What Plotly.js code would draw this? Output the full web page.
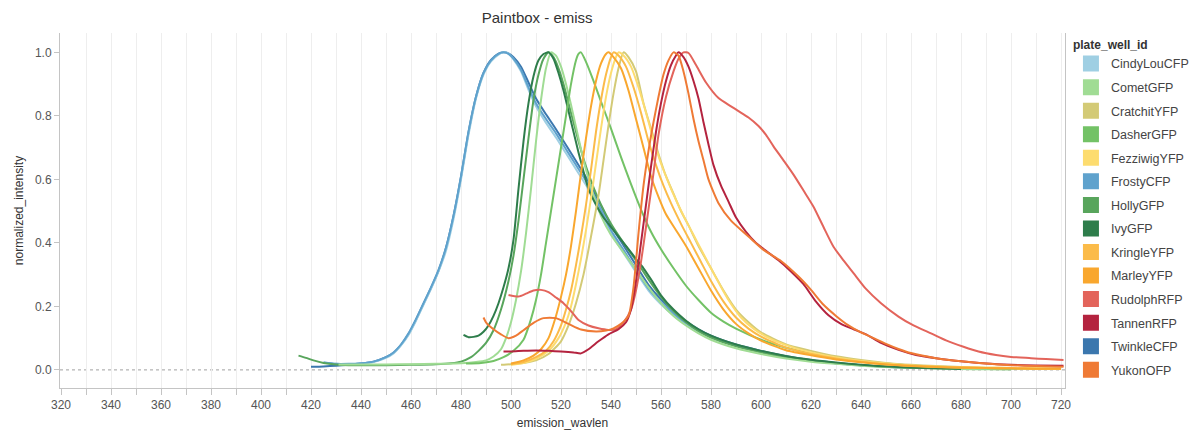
<!DOCTYPE html>
<html>
<head>
<meta charset="utf-8">
<script src="https://cdn.plot.ly/plotly-3.0.1.min.js"></script>
<style>html,body{margin:0;padding:0;background:#fff;}#chart{width:1199px;height:432px;}</style>
</head>
<body>
<div id="chart"></div>
<script>
// ---- data ----
const seriesNames = ["CindyLouCFP","CometGFP","CratchitYFP","DasherGFP","FezziwigYFP","FrostyCFP","HollyGFP","IvyGFP","KringleYFP","MarleyYFP","RudolphRFP","TannenRFP","TwinkleCFP","YukonOFP"];
const seriesColors = ["#9fcfe3","#a0dc94","#d3ca76","#73c266","#fddc6f","#5fa2cd","#58a55c","#2e7d4b","#fbbb49","#f9a72e","#e3645b","#b4233f","#3b77ae","#ef7a35"];
// order in which the lines are drawn (later = on top)
const drawOrder = ["TwinkleCFP","CindyLouCFP","FrostyCFP","HollyGFP","CometGFP","IvyGFP","DasherGFP","CratchitYFP","FezziwigYFP","KringleYFP","MarleyYFP","RudolphRFP","TannenRFP","YukonOFP"];

const cindyX = [427,430,435,440,445,450,453,456,459,462,465,468,471,474,477,480,483,486,489,492,495,497,499,501,504,507,510,514,518,522,526,530,535,540,545,550,555,560,565,570,575,580,590,600,610,620,630,640,650,660];
const cindyY = [0.022,0.019,0.018,0.02,0.025,0.038,0.052,0.077,0.11,0.155,0.205,0.255,0.31,0.375,0.475,0.6,0.74,0.855,0.93,0.972,0.993,1.0,0.996,0.978,0.94,0.882,0.83,0.778,0.732,0.682,0.632,0.582,0.508,0.43,0.368,0.308,0.25,0.207,0.172,0.143,0.12,0.101,0.075,0.056,0.04,0.029,0.02,0.014,0.01,0.007];

const cometX = [431,440,450,460,470,480,486,490,493,496,498,500,502,504,506,508,510,512,514,516,518,520,522,524,526,528,530,533,536,540,545,550,555,560,565,570,575,580,590,600,610,620,630,640,650,660,670,680,690,700];
const cometY = [0.017,0.017,0.017,0.018,0.019,0.021,0.025,0.03,0.042,0.065,0.1,0.15,0.22,0.31,0.43,0.57,0.72,0.85,0.95,1.0,0.99,0.955,0.9,0.835,0.765,0.695,0.63,0.55,0.485,0.425,0.37,0.315,0.26,0.21,0.17,0.14,0.115,0.095,0.068,0.05,0.036,0.026,0.019,0.013,0.009,0.007,0.005,0.003,0.002,0.002];

const cratchitX = [496,500,505,510,515,520,523,526,529,532,535,537,539,541,543,545,547,550,553,556,559,562,565,568,571,575,580,585,590,595,600,610,620,630,640,650,660,670,680,690,700,710,720];
const cratchitY = [0.016,0.018,0.022,0.03,0.05,0.09,0.14,0.21,0.3,0.42,0.55,0.66,0.77,0.87,0.95,1.0,0.985,0.94,0.84,0.76,0.68,0.61,0.555,0.5,0.455,0.39,0.32,0.25,0.19,0.15,0.118,0.08,0.06,0.043,0.031,0.022,0.016,0.012,0.009,0.007,0.006,0.005,0.004];

const dasherX = [482,488,493,497,501,505,508,510,512,514,516,518,520,522,524,526,527,528,530,533,536,540,544,548,552,556,560,565,570,575,580,585,590,600,610,620,630,640,650,660,670,680,690,700,710,720];
const dasherY = [0.02,0.022,0.028,0.04,0.06,0.095,0.16,0.22,0.3,0.4,0.5,0.6,0.7,0.8,0.9,0.975,0.995,1.0,0.97,0.91,0.845,0.76,0.67,0.585,0.505,0.435,0.38,0.32,0.265,0.22,0.18,0.152,0.13,0.095,0.07,0.052,0.038,0.028,0.02,0.014,0.01,0.007,0.005,0.004,0.003,0.003];

const fezziwigX = [500,505,510,515,519,522,524,526,528,530,532,534,536,538,540,542,543,545,548,551,554,557,560,563,566,570,574,578,582,587,592,597,602,610,620,630,640,650,660,670,680,690,700,710,720];
const fezziwigY = [0.016,0.022,0.035,0.06,0.1,0.15,0.2,0.27,0.35,0.44,0.54,0.65,0.76,0.86,0.935,0.985,1.0,0.99,0.955,0.89,0.81,0.725,0.65,0.59,0.535,0.47,0.41,0.35,0.29,0.22,0.165,0.13,0.105,0.078,0.055,0.039,0.028,0.02,0.014,0.011,0.008,0.007,0.006,0.005,0.004];

const frostyX = [425,430,435,440,445,450,453,456,459,462,465,468,471,474,477,480,483,486,489,492,495,497,499,501,504,507,510,514,518,522,526,530,535,540,545,550,555,560,565,570,575,580,590,600,610,620,630,640,650,660];
const frostyY = [0.024,0.019,0.019,0.021,0.026,0.04,0.055,0.08,0.115,0.16,0.21,0.26,0.315,0.385,0.485,0.61,0.75,0.86,0.935,0.975,0.995,1.0,0.995,0.98,0.945,0.89,0.84,0.79,0.745,0.695,0.645,0.595,0.52,0.44,0.378,0.316,0.256,0.213,0.178,0.148,0.124,0.105,0.078,0.058,0.042,0.03,0.021,0.015,0.01,0.007];

const hollyX = [415,418,421,425,430,435,440,450,460,470,476,480,484,487,490,493,496,499,501,503,505,507,509,511,513,515,517,519,521,523,525,527,530,533,536,540,545,550,555,560,565,570,575,580,590,600,610,620,630,640,650,660,670,680,690,700];
const hollyY = [0.045,0.038,0.03,0.022,0.017,0.015,0.015,0.015,0.016,0.018,0.021,0.026,0.04,0.06,0.085,0.125,0.19,0.28,0.36,0.47,0.6,0.73,0.85,0.93,0.98,1.0,0.985,0.95,0.9,0.84,0.78,0.72,0.64,0.575,0.52,0.46,0.4,0.345,0.285,0.23,0.185,0.15,0.122,0.102,0.074,0.055,0.04,0.029,0.021,0.015,0.01,0.007,0.005,0.004,0.003,0.002];

const ivyX = [481,483,485,487,489,491,493,495,497,499,501,503,505,507,509,511,513,515,517,519,521,523,525,527,529,531,534,537,540,543,547,550,553,556,560,565,570,575,580,590,600,610,620,630,640,650,660,670,680];
const ivyY = [0.11,0.103,0.104,0.108,0.12,0.14,0.17,0.21,0.26,0.32,0.41,0.57,0.72,0.84,0.925,0.975,0.995,1.0,0.98,0.935,0.88,0.815,0.75,0.685,0.625,0.57,0.52,0.48,0.45,0.42,0.38,0.35,0.32,0.285,0.235,0.19,0.155,0.128,0.108,0.08,0.06,0.044,0.032,0.023,0.016,0.011,0.007,0.005,0.003];

const kringleX = [500,505,510,514,517,520,522,524,526,528,530,532,534,536,538,540,541,543,546,549,552,555,558,561,564,568,572,576,580,585,590,595,600,610,620,630,640,650,660,670,680,690,700,710,720];
const kringleY = [0.018,0.025,0.04,0.06,0.09,0.14,0.19,0.25,0.33,0.42,0.52,0.63,0.75,0.85,0.93,0.985,1.0,0.99,0.955,0.89,0.81,0.72,0.645,0.58,0.525,0.46,0.4,0.34,0.28,0.215,0.165,0.13,0.105,0.07,0.05,0.036,0.026,0.018,0.013,0.01,0.008,0.006,0.005,0.004,0.004];

const marleyX = [500,505,509,512,515,518,520,522,524,526,528,530,532,534,536,538,539,541,544,547,550,553,556,559,562,566,570,575,580,585,590,595,600,610,620,630,640,650,660,670,680,690,700,710,720];
const marleyY = [0.02,0.03,0.045,0.065,0.1,0.17,0.23,0.3,0.39,0.5,0.62,0.73,0.83,0.91,0.965,0.995,1.0,0.985,0.95,0.88,0.79,0.7,0.61,0.545,0.49,0.44,0.39,0.32,0.25,0.19,0.145,0.115,0.092,0.062,0.046,0.033,0.024,0.017,0.012,0.009,0.007,0.006,0.005,0.004,0.004];

const rudolphX = [499,503,506,509,512,515,518,521,524,527,531,535,539,542,545,548,550,552,554,557,559,562,565,567,569,571,574,578,583,588,591,595,599,602,605,609,613,617,621,625,629,633,637,642,648,655,661,668,674,681,687,694,700,708,714,721];
const rudolphY = [0.236,0.231,0.24,0.25,0.252,0.245,0.228,0.21,0.185,0.157,0.14,0.131,0.126,0.128,0.15,0.19,0.25,0.34,0.45,0.62,0.74,0.86,0.94,0.98,1.0,0.998,0.96,0.905,0.856,0.83,0.815,0.795,0.768,0.74,0.704,0.66,0.615,0.565,0.514,0.45,0.388,0.345,0.305,0.255,0.21,0.168,0.14,0.115,0.093,0.073,0.058,0.047,0.041,0.037,0.034,0.031];

const tannenX = [497,500,505,510,515,520,525,528,531,535,539,543,546,548,550,552,554,556,558,560,562,564,566,567,569,571,573,575,577,579,581,584,587,590,594,598,602,607,612,617,622,627,632,637,642,648,655,662,670,680,690,700,710,721];
const tannenY = [0.058,0.058,0.06,0.061,0.06,0.058,0.055,0.052,0.065,0.09,0.112,0.128,0.15,0.19,0.28,0.4,0.52,0.64,0.75,0.84,0.91,0.96,0.99,1.0,0.985,0.955,0.91,0.855,0.78,0.71,0.645,0.58,0.53,0.48,0.435,0.4,0.375,0.345,0.31,0.27,0.215,0.172,0.145,0.128,0.112,0.085,0.063,0.047,0.037,0.027,0.02,0.016,0.014,0.013];

const twinkleX = [420,425,430,435,440,445,450,453,456,459,462,465,468,471,474,477,480,483,486,489,492,495,497,499,501,504,507,510,514,518,522,526,530,535,540,545,550,555,560,565,570,575,580,590,600,610,620,630,640,650,660];
const twinkleY = [0.01,0.011,0.013,0.016,0.02,0.026,0.04,0.054,0.079,0.113,0.158,0.208,0.258,0.312,0.385,0.485,0.608,0.748,0.86,0.935,0.976,0.996,1.0,0.997,0.985,0.955,0.905,0.855,0.805,0.758,0.708,0.658,0.607,0.533,0.455,0.392,0.33,0.268,0.222,0.185,0.153,0.128,0.108,0.08,0.06,0.043,0.031,0.022,0.015,0.01,0.007];

const yukonX = [489,490,493,496,499,502,505,509,513,518,523,528,534,538,541,544,547,549,551,553,555,557,559,561,563,565,567,569,571,573,575,577,579,583,588,595,601,608,615,620,625,630,635,640,645,650,655,660,670,680,690,700,710,721];
const yukonY = [0.165,0.15,0.128,0.112,0.1,0.108,0.125,0.148,0.163,0.163,0.145,0.127,0.121,0.124,0.131,0.145,0.17,0.26,0.43,0.58,0.69,0.78,0.86,0.93,0.975,1.0,0.99,0.94,0.87,0.79,0.72,0.66,0.6,0.525,0.47,0.42,0.378,0.343,0.294,0.252,0.205,0.17,0.14,0.118,0.1,0.082,0.066,0.053,0.037,0.027,0.02,0.015,0.012,0.01];

const xTickVals = [320,340,360,380,400,420,440,460,480,500,520,540,560,580,600,620,640,660,680,700,720];
const yTickVals = [0.0,0.2,0.4,0.6,0.8,1.0];

const seriesX = [cindyX,cometX,cratchitX,dasherX,fezziwigX,frostyX,hollyX,ivyX,kringleX,marleyX,rudolphX,tannenX,twinkleX,yukonX];
const seriesY = [cindyY,cometY,cratchitY,dasherY,fezziwigY,frostyY,hollyY,ivyY,kringleY,marleyY,rudolphY,tannenY,twinkleY,yukonY];

// ---- traces ----
const FONT = "Liberation Sans, Arial, sans-serif";
const traces = [];
drawOrder.forEach((n) => {
  const i = seriesNames.indexOf(n);
  traces.push({
    type: "scatter", mode: "lines", name: n,
    x: seriesX[i], y: seriesY[i],
    line: {color: seriesColors[i], width: 2, shape: "spline", smoothing: 0.6},
    showlegend: false, legendgroup: n, hoverinfo: "x+y+name"
  });
});
seriesNames.forEach((n, i) => {
  traces.push({
    type: "scatter", mode: "markers", name: n,
    x: [null], y: [null],
    marker: {symbol: "square", size: 16, color: seriesColors[i], line: {width: 0}},
    showlegend: true, legendgroup: n, hoverinfo: "skip"
  });
});

const layout = {
  width: 1199, height: 432,
  margin: {l: 60, r: 134, t: 33, b: 44, autoexpand: false},
  paper_bgcolor: "#ffffff", plot_bgcolor: "#ffffff",
  font: {family: FONT, color: "#555", size: 12},
  title: {text: "Paintbox - emiss", xref: "container", x: 0.448, xanchor: "center",
          yref: "container", y: 0.958, yanchor: "middle",
          font: {family: FONT, size: 15, color: "#333"}},
  xaxis: {
    range: [319.6, 721.6], tickvals: xTickVals, ticks: "outside", ticklen: 6,
    tickcolor: "#c4c4c4", showline: true, linecolor: "#c4c4c4", linewidth: 1,
    showgrid: true, gridcolor: "#eeeeee", gridwidth: 1, zeroline: false,
    minor: {dtick: 10, tick0: 0, ticks: "outside", ticklen: 6, tickcolor: "#c4c4c4", showgrid: true, gridcolor: "#eeeeee"},
    tickfont: {family: FONT, size: 12, color: "#555"},
    title: {text: "emission_wavlen", font: {family: FONT, size: 12, color: "#333"}, standoff: 7}
  },
  yaxis: {
    range: [-0.057, 1.061], tickvals: yTickVals, tickformat: ".1f",
    ticks: "outside", ticklen: 5, tickcolor: "#c4c4c4",
    showline: true, linecolor: "#c4c4c4", linewidth: 1, mirror: true,
    showgrid: false, zeroline: false,
    tickfont: {family: FONT, size: 12, color: "#555"},
    title: {text: "normalized_intensity", font: {family: FONT, size: 12, color: "#333"}, standoff: 8}
  },
  shapes: [{type: "line", xref: "paper", x0: 0, x1: 1, yref: "y", y0: 0, y1: 0,
            line: {color: "#a0a0a0", width: 1, dash: "dot"}, layer: "below"}],
  legend: {
    xref: "container", yref: "container",
    x: 0.8932, xanchor: "left", y: 0.9227, yanchor: "top",
    maxheight: 420,
    traceorder: "grouped", tracegroupgap: 4.3,
    font: {family: FONT, size: 12.5, color: "#444"},
    title: {text: "plate_well_id", font: {family: FONT, size: 12, color: "#333", weight: "bold"}},
    itemwidth: 30, bgcolor: "rgba(0,0,0,0)"
  },
  showlegend: true
};

Plotly.newPlot("chart", traces, layout, {displayModeBar: false, responsive: false});
</script>
</body>
</html>
